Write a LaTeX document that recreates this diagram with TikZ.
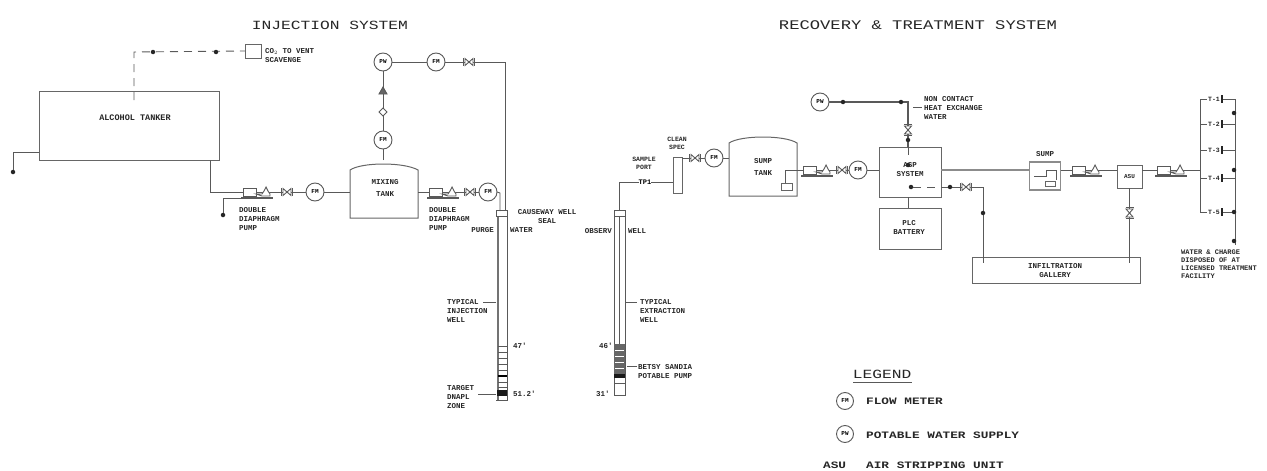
\documentclass[tikz,border=0pt]{standalone}
\usepackage{fontspec}
\newfontfamily\cad[FakeStretch=1.0]{Liberation Mono}
\newfontfamily\cadw[FakeStretch=1.3]{Liberation Mono}
\tikzset{
  ln/.style={draw=black!65,line width=0.9pt},
  hvy/.style={draw=black!45,line width=1.7pt},
  eq/.style={draw=black!60,line width=1pt,rectangle,inner sep=0pt,outer sep=0pt,fill=white},
  gauge/.style={circle,draw=black!65,line width=0.9pt,fill=white,minimum size=18pt,inner sep=0pt,outer sep=0pt,font=\cad\bfseries\fontsize{6}{6}\selectfont},
  lbl/.style={font=\cad\bfseries\fontsize{7.5}{9}\selectfont,align=left,anchor=west,inner sep=0pt,text=black!85},
  clbl/.style={font=\cad\bfseries\fontsize{7.5}{9}\selectfont,align=center,inner sep=0pt,text=black!85},
  title/.style={font=\cadw\fontsize{12.5}{14}\selectfont,inner sep=0pt,text=black!85},
  leg/.style={font=\cadw\bfseries\fontsize{9.8}{12}\selectfont,anchor=west,inner sep=0pt,text=black!85},
  dot/.style={circle,fill=black!85,inner sep=0pt,minimum size=4.5pt},
  dsh/.style={ln,dash pattern=on 8pt off 6pt},
  valve/.pic={
    \draw[ln,fill=white] (-4,-3.5)--(-4,3.5)--(4,-3.5)--(4,3.5)--cycle;
    \draw[ln,line width=1.1pt] (-5.5,-4)--(-5.5,4) (5.5,-4)--(5.5,4);
  },
  pump/.pic={
    \draw[ln,fill=white] (0,-4) rectangle (13,4);
    \draw[ln,fill=white] (13,2)--(19,2)--(21,-1)--(23,-5)--(25,-1)--(27,2)--(27,4)--(19,4)--cycle;
    \draw[ln,line width=1.2pt] (-2,6)--(30,6);
  },
}
\begin{document}
\begin{tikzpicture}[x=1pt,y=-1pt]
\useasboundingbox (0,0) rectangle (1267,471);
% titles
\node[title] (t1) at (330,25) {INJECTION SYSTEM};
\node[title,font=\cadw\fontsize{13.2}{15}\selectfont] (t2) at (918,25) {RECOVERY \& TREATMENT SYSTEM};

% ---------- injection side
\node[eq,minimum width=180pt,minimum height=69pt] (tanker) at (129,125.5) {};
\node[clbl,font=\cad\bfseries\fontsize{8.5}{10}\selectfont] (tankerl) at (135,118) {ALCOHOL TANKER};
\node[eq,minimum width=16pt,minimum height=14pt] (vent) at (253,51) {};
\node[lbl] (ventl) at (265,56) {CO$_2$ TO VENT\\SCAVENGE};
\coordinate (vs) at (134,100);
\coordinate (vc) at (134,52);
\draw[dsh] (vs) -- (vc) -- (vent.west);
\node[dot] (d1) at (153,52) {};
\node[dot] (d2) at (216,52) {};
\coordinate (tl) at (39,152);
\coordinate (tlc) at (13,152);
\node[dot] (tld) at (13,172) {};
\draw[ln] (tl) -- (tlc) -- (tld);

% mixing tank
\coordinate (mt) at (383,160);
\coordinate (mtl) at (350,192);
\coordinate (mtr) at (418,192);
\draw[eq] (350,170) .. controls (362,162) and (404,162) .. (418,170) -- (418,218) -- (350,218) -- cycle;
\node[clbl,font=\cad\bfseries\fontsize{7.5}{9}\selectfont] (mixl) at (385,188) {MIXING\\[3pt]TANK};

\coordinate (tb) at (210,160);
\coordinate (tbc) at (210,192);
\node[gauge] (g1) at (315,192) {FM};
\draw[ln] (tb) -- (tbc) -- (g1);
\draw[ln] (g1) -- (mtl);
\pic at (243,192) {pump};
\pic at (287,192) {valve};
\coordinate (ps) at (272,198);
\coordinate (psc) at (223,198);
\node[dot] (psd) at (223,215) {};
\draw[ln] (ps) -- (psc) -- (psd);
\node[lbl] (p1l) at (239,219) {DOUBLE\\DIAPHRAGM\\PUMP};

\node[gauge] (g2) at (383,140) {FM};
\node[gauge] (g3) at (383,62) {PW};
\node[gauge] (g4) at (436,62) {FM};
\draw[ln] (mt) -- (g2);
\draw[ln] (g2) -- (g3);
\draw[ln] (g3) -- (g4);
\draw[ln,fill=white] (383,108)--(387,112)--(383,116)--(379,112)--cycle;
\draw[ln,fill=black!60] (383,87)--(387,94)--(379,94)--cycle;
\coordinate (rc) at (505,62);
\coordinate (rb) at (505,211);
\draw[ln] (g4) -- (rc) -- (rb);
\pic at (469,62) {valve};

\node[gauge] (g5) at (488,192) {FM};
\draw[ln] (mtr) -- (g5);
\pic at (429,192) {pump};
\pic at (470,192) {valve};
\coordinate (w1t) at (500,211);
\draw[ln] (g5.east) -- (500,193) -- (w1t);
\node[lbl] (p2l) at (429,219) {DOUBLE\\DIAPHRAGM\\PUMP};

% injection well
\draw[ln,line width=2.2pt,draw=black!55] (498,216) -- (498,400);
\draw[ln] (507,216) -- (507,400) -- (496,400);
\draw[ln] (496,210) rectangle (507,216);
\foreach \y in {346,352,358,364,370,382,387} {\draw[ln] (498,\y) -- (507,\y);}
\draw[line width=1.8pt,black] (498,376) -- (507,376);
\fill[black!90] (497,390) rectangle (507,396);
\node[clbl] (wl0) at (547,217) {CAUSEWAY WELL\\SEAL};
\node[lbl,anchor=east] (wl1a) at (494,230.5) {PURGE};
\node[lbl] (wl1b) at (510,230.5) {WATER};
\node[lbl] (wl2) at (447,311) {TYPICAL\\INJECTION\\WELL};
\node[lbl] (wl3) at (447,397) {TARGET\\DNAPL\\ZONE};
\node[lbl] (wl4) at (513,346) {47'};
\node[lbl] (wl5) at (513,394) {51.2'};
\coordinate (wa1) at (496,302); \coordinate (wa2) at (483,302);
\draw[ln] (wa1) -- (wa2);
\coordinate (wb1) at (496,394); \coordinate (wb2) at (478,394);
\draw[ln] (wb1) -- (wb2);

% extraction well
\draw[ln] (614,216) -- (614,395) -- (625,395) -- (625,216);
\draw[ln] (619,216) -- (619,344);
\draw[ln] (614,210) rectangle (625,216);
\fill[black!60] (614,344) rectangle (625,374);
\fill[black!90] (614,374) rectangle (625,378);
\foreach \y in {350,356,362,368,382,387} {\draw[ln,white,line width=0.7pt] (615,\y) -- (624,\y);}
\draw[ln] (614,383) -- (625,383);
\node[lbl,anchor=east] (el1a) at (612,231) {OBSERV};
\node[lbl] (el1b) at (628,231) {WELL};
\node[lbl] (el2) at (640,311) {TYPICAL\\EXTRACTION\\WELL};
\node[lbl] (el3) at (638,371.5) {BETSY SANDIA\\POTABLE PUMP};
\node[lbl] (el4) at (599,346) {46'};
\node[lbl] (el5) at (596,394) {31'};
\coordinate (ea1) at (625,302); \coordinate (ea2) at (637,302);
\draw[ln] (ea1) -- (ea2);
\coordinate (eb1) at (627,366); \coordinate (eb2) at (637,366);
\draw[ln] (eb1) -- (eb2);

% clean/sample
\node[eq,minimum width=9pt,minimum height=36pt] (clean) at (677.5,175) {};
\node[clbl,font=\cad\bfseries\fontsize{6.5}{8}\selectfont] (cleanl) at (677,143.5) {CLEAN\\SPEC};
\node[clbl,font=\cad\bfseries\fontsize{6.5}{8}\selectfont] (sampl) at (644,163) {SAMPLE\\PORT};
\coordinate (ew) at (619,210);
\coordinate (ec) at (619,182);
\coordinate (cin) at (672.5,182);
\draw[ln] (ew) -- (ec) -- (cin);
\node[eq,draw=none,font=\cad\bfseries\fontsize{7}{8}\selectfont] (tp) at (645,182) {TP1};
\node[gauge] (g6) at (714,158) {FM};
\coordinate (cout) at (682,158);
\coordinate (sl) at (729,158);
\draw[ln] (cout) -- (g6);
\draw[ln] (g6) -- (sl);
\pic at (695,158) {valve};

% sump tank
\draw[eq] (729,143) .. controls (741,135) and (785,135) .. (797,143) -- (797,196) -- (729,196) -- cycle;
\node[clbl] (suml) at (763,166.5) {SUMP\\[3pt]TANK};
\node[eq,minimum width=11pt,minimum height=7pt] (spump) at (787,186.5) {};
\coordinate (s1) at (785,170);
\node[gauge] (g7) at (858,170) {FM};
\node[eq,minimum width=62pt,minimum height=50pt] (main) at (910,172) {};
\draw[ln] (spump.north -| s1) -- (s1) -- (g7);
\draw[ln] (g7) -- (main.west |- g7);
\pic at (803,170) {pump};
\pic at (842,170) {valve};
\node[clbl] (mainl) at (910,169.5) {ASP\\SYSTEM};
\node[dot] (md) at (908,165) {};
\node[eq,minimum width=62pt,minimum height=41pt] (plc) at (910,228.5) {};
\node[clbl] (plcl) at (909,227) {PLC\\BATTERY};
\draw[ln] (main.south -| 908,0) -- (plc.north -| 908,0);

% non contact water
\node[gauge] (g8) at (820,102) {PW};
\coordinate (nc) at (908,102);
\draw[ln,line width=1.2pt] (g8) -- (nc) -- (908,147);
\draw[dsh] (908,147) -- (908,160);
\node[dot] (n1) at (843,102) {};
\node[dot] (n2) at (901,102) {};
\node[dot] (n3) at (908,140) {};
\pic[rotate=90] at (908,130) {valve};
\node[lbl] (ncl) at (924,108) {NON CONTACT\\HEAT EXCHANGE\\WATER};
\coordinate (la1) at (913,107); \coordinate (la2) at (922,107);
\draw[ln] (la1) -- (la2);

% infiltration gallery
\node[eq,minimum width=168pt,minimum height=26pt] (gal) at (1056,270) {};
\node[clbl] (gall) at (1055,270.5) {INFILTRATION\\GALLERY};
\node[dot] (m2) at (911,187) {};
\coordinate (ga) at (983,187);
\coordinate (gb) at (983,263);
\draw[dsh] (m2) -- (950,187);
\draw[ln] (950,187) -- (ga) -- (gb);
\node[dot] (m3) at (950,187) {};
\node[dot] (m4) at (983,213) {};
\pic at (966,187) {valve};

% treated line
\node[eq,draw=black!45,line width=1.6pt,minimum width=31pt,minimum height=28pt] (sbox) at (1045,176) {};
\node[clbl] (sboxl) at (1045,154) {SUMP};
\draw[ln] (1034,176) -- (1046,176) -- (1046,170) -- (1056,170) -- (1056,180);
\node[eq,minimum width=10pt,minimum height=5pt] (sb2) at (1050,184) {};
\node[eq,minimum width=25pt,minimum height=23pt] (asu) at (1129.5,176.5) {};
\node[clbl,font=\cad\bfseries\fontsize{6}{7}\selectfont] (asul) at (1129.5,176.5) {ASU};
\coordinate (j) at (1200,170);
\draw[hvy] (main.east |- 0,170) -- (sbox.west |- 0,170);
\draw[ln] (sbox.east |- 0,170) -- (asu.west |- 0,170);
\draw[ln] (asu.east |- 0,170) -- (j);
\draw[ln] (asu.south) -- (1129.5,263);
\pic at (1072,170) {pump};
\pic at (1157,170) {pump};
\pic[rotate=90] at (1129.5,213) {valve};

% manifold
\coordinate (mt1) at (1200,99);
\coordinate (mt2) at (1200,212);
\coordinate (mr1) at (1235,99);
\coordinate (mr2) at (1235,245);
\draw[ln] (mt1) -- (mt2);
\draw[ln] (mr1) -- (mr2);
\foreach \y/\lab in {99/1,124/2,150/3,178/4,212/5}{
  \draw[ln] (1200,\y) -- (1235,\y);
  \node[clbl,fill=white,inner xsep=1pt,font=\cad\bfseries\fontsize{6.5}{8}\selectfont] at (1214,\y) {T-\lab};
  \draw[line width=1.1pt,black!85] (1222,\y-4) -- (1222,\y+4);
}
\node[dot] (md1) at (1234,113) {};
\node[dot] (md2) at (1234,170) {};
\node[dot] (md3) at (1234,212) {};
\node[dot] (md4) at (1234,241) {};
\node[lbl,font=\cad\bfseries\fontsize{7}{8.2}\selectfont] (wl) at (1181,264) {WATER \& CHARGE\\DISPOSED OF AT\\LICENSED TREATMENT\\FACILITY};

% legend
\node[font=\cadw\fontsize{12.5}{14}\selectfont,inner sep=0pt,text=black!85] (lg) at (882,374) {LEGEND};
\coordinate (lga) at (853,382); \coordinate (lgb) at (912,382);
\draw[ln] (lga) -- (lgb);
\node[gauge,minimum size=17pt] (lg1) at (845,401) {FM};
\node[leg] (lg1t) at (866,401) {FLOW METER};
\node[gauge,minimum size=17pt] (lg2) at (845,434) {PW};
\node[leg] (lg2t) at (866,435) {POTABLE WATER SUPPLY};
\node[leg] (lg3a) at (823,465) {ASU};
\node[leg] (lg3t) at (866,465) {AIR STRIPPING UNIT};
\end{tikzpicture}
\end{document}
